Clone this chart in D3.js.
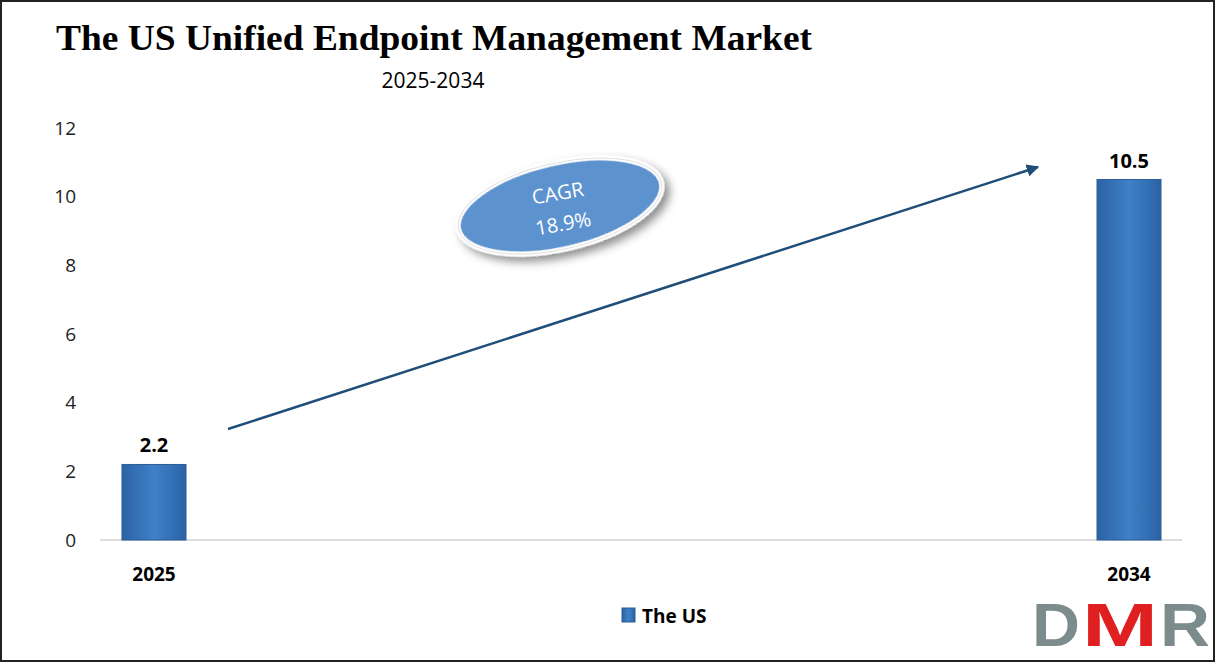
<!DOCTYPE html>
<html><head><meta charset="utf-8">
<script src="https://cdn.jsdelivr.net/npm/d3@7"></script>
<style>body{margin:0;background:#fff}svg{display:block}</style></head>
<body><svg id="c" width="1216" height="663"></svg>
<script>
const categories = ["2025","2034"];
const values = [2.2, 10.5];
const yTicks = [0,2,4,6,8,10,12];
const seriesName = "The US";
const cagrText = ["CAGR","18.9%"];

const svg = d3.select("#c");
svg.append("rect").attr("x",1).attr("y",1).attr("width",1213).attr("height",660).attr("fill","#fff").attr("stroke","#222").attr("stroke-width",2);
const defs = svg.append("defs");
const g1 = defs.append("linearGradient").attr("id","bar").attr("x1","0").attr("x2","1");
g1.append("stop").attr("offset","0").attr("stop-color","#2b63a4");
g1.append("stop").attr("offset","0.5").attr("stop-color","#3f80c8");
g1.append("stop").attr("offset","1").attr("stop-color","#2b63a4");
const f = defs.append("filter").attr("id","sh").attr("x","-30%").attr("y","-30%").attr("width","160%").attr("height","160%");
f.append("feDropShadow").attr("dx",4).attr("dy",6).attr("stdDeviation",5).attr("flood-color","#000").attr("flood-opacity",0.45);
defs.append("marker").attr("id","ar").attr("viewBox","0 0 10 10").attr("refX",9).attr("refY",5)
 .attr("markerWidth",5).attr("markerHeight",5).attr("orient","auto")
 .append("path").attr("d","M0,0L10,5L0,10z").attr("fill","#1f4e79");

const y = d3.scaleLinear().domain([0,12]).range([540,128]);
const x = d3.scalePoint().domain(categories).range([154,1129]);

svg.append("text").attr("x",56).attr("y",50).attr("font-family","Liberation Serif").attr("font-weight","bold").attr("font-size",35)
 .attr("textLength",756).attr("lengthAdjust","spacingAndGlyphs").text("The US Unified Endpoint Management Market");
svg.append("text").attr("x",433).attr("y",88).attr("text-anchor","middle").attr("font-family","Open Sans").attr("font-size",21).text("2025-2034");

const ya = svg.append("g").attr("transform","translate(100,0)").call(d3.axisLeft(y).tickValues(yTicks).tickSize(0).tickPadding(24));
ya.select(".domain").remove();
ya.selectAll("text").attr("font-family","Open Sans").attr("font-size",19).attr("fill","#222");

svg.append("line").attr("x1",100).attr("x2",1182).attr("y1",y(0)).attr("y2",y(0)).attr("stroke","#bbb");

const bw = 64;
svg.selectAll(".b").data(values).join("rect").attr("x",(d,i)=>x(categories[i])-bw/2).attr("y",d=>y(d))
 .attr("width",bw).attr("height",d=>y(0)-y(d)).attr("fill","url(#bar)").attr("stroke","#2a5d95");
svg.selectAll(".v").data(values).join("text").attr("x",(d,i)=>x(categories[i])).attr("y",d=>y(d)-12)
 .attr("text-anchor","middle").attr("font-family","Open Sans").attr("font-weight","bold").attr("font-size",20).text(d=>d);
svg.selectAll(".c").data(categories).join("text").attr("x",d=>x(d)).attr("y",581).attr("text-anchor","middle")
 .attr("font-family","Open Sans").attr("font-weight","bold").attr("font-size",19).text(d=>d);

svg.append("line").attr("x1",228).attr("y1",429).attr("x2",1038).attr("y2",167).attr("stroke","#1f4e79").attr("stroke-width",2.5).attr("marker-end","url(#ar)");

const eg = svg.append("g").attr("transform","translate(560,206) rotate(-13)");
eg.append("ellipse").attr("rx",104).attr("ry",43).attr("fill","#5b93cf").attr("stroke","#fff").attr("stroke-width",5).attr("filter","url(#sh)");
eg.append("ellipse").attr("rx",104).attr("ry",43).attr("fill","none").attr("stroke","#e0e0e0").attr("stroke-width",1);
svg.append("g").attr("transform","translate(560,206) rotate(-10)").selectAll("text").data(cagrText).join("text")
 .attr("y",(d,i)=>i?25:-6).attr("text-anchor","middle").attr("font-family","Open Sans").attr("font-size",20).attr("fill","#fff").text(d=>d);

svg.append("rect").attr("x",622).attr("y",608).attr("width",13).attr("height",14).attr("fill","url(#bar)").attr("stroke","#2a5d95");
svg.append("text").attr("x",642).attr("y",623).attr("font-family","Open Sans").attr("font-weight","bold").attr("font-size",19).text(seriesName);

const lg = svg.append("g").attr("font-family","Liberation Sans").attr("font-weight","bold").attr("font-size",62);
lg.append("text").attr("x",1032).attr("y",646).attr("fill","#7c8b8b").attr("textLength",48).attr("lengthAdjust","spacingAndGlyphs").text("D");
lg.append("text").attr("x",1082).attr("y",646).attr("fill","#e02020").attr("textLength",76).attr("lengthAdjust","spacingAndGlyphs").text("M");
lg.append("text").attr("x",1160).attr("y",646).attr("fill","#7c8b8b").attr("textLength",50).attr("lengthAdjust","spacingAndGlyphs").text("R");
</script></body></html>
